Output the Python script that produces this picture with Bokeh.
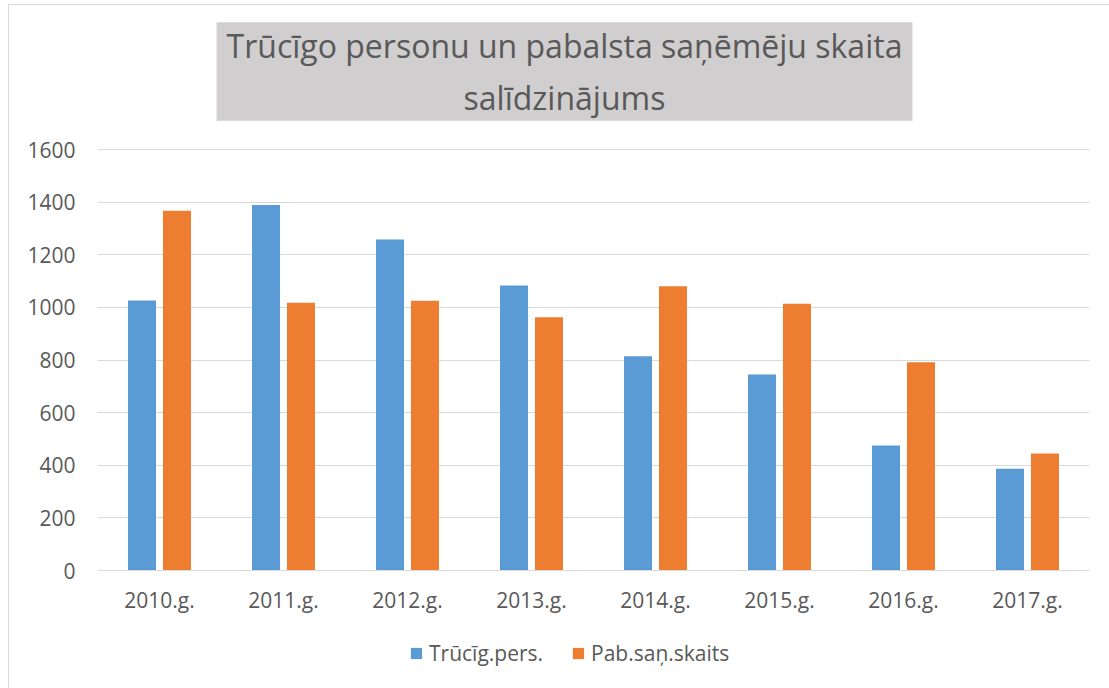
from bokeh.plotting import figure
from bokeh.models import ColumnDataSource, FactorRange, FixedTicker, Label, Legend, LegendItem, Range1d
from bokeh.transform import dodge
from bokeh.embed import file_html
from bokeh.resources import INLINE

years = ["2010.g.", "2011.g.", "2012.g.", "2013.g.", "2014.g.", "2015.g.", "2016.g.", "2017.g."]
trucig_pers = [1026, 1389, 1258, 1083, 814, 745, 475, 387]
pab_san_skaits = [1367, 1018, 1025, 962, 1080, 1014, 791, 445]
series_names = ["Trūcīg.pers.", "Pab.saņ.skaits"]
title_lines = ["Trūcīgo personu un pabalsta saņēmēju skaita", "salīdzinājums"]
y_ticks = [0, 200, 400, 600, 800, 1000, 1200, 1400, 1600]

FONT = "Open Sans"
TXT = "#595959"

W, H = 1101, 684
# value axis: 0..1600 spans 421 px; frame also holds title and legend areas
PX_PER_UNIT = 421 / 1600
Y_LO = -(119 / PX_PER_UNIT)
Y_HI = 1600 + (144 / PX_PER_UNIT)

source = ColumnDataSource(dict(year=years, a=trucig_pers, b=pab_san_skaits))

p = figure(x_range=FactorRange(*years, range_padding=0), y_range=Range1d(Y_LO, Y_HI),
           width=W, height=H, output_backend="svg", toolbar_location=None,
           min_border_left=88, min_border_right=21, min_border_top=0, min_border_bottom=0)
p.title.visible = False
p.outline_line_color = None
p.styles = {"border-left": "1px solid #d9d9d9", "border-top": "1px solid #d9d9d9",
            "margin-left": "8px", "margin-top": "4px"}

r1 = p.vbar(x=dodge("year", -0.141, range=p.x_range), top="a", width=0.226, source=source,
            fill_color="#5b9bd5", line_color=None)
r2 = p.vbar(x=dodge("year", 0.141, range=p.x_range), top="b", width=0.226, source=source,
            fill_color="#ed7d31", line_color=None)

p.xgrid.grid_line_color = None
p.ygrid.grid_line_color = "#d9d9d9"
p.ygrid.grid_line_width = 1
p.yaxis.ticker = FixedTicker(ticks=y_ticks)

for ax in (p.xaxis[0], p.yaxis[0]):
    ax.major_tick_line_color = None
    ax.minor_tick_line_color = None
    ax.major_tick_in = 0
    ax.major_tick_out = 0
    ax.minor_tick_out = 0
    ax.major_label_text_font = FONT
    ax.major_label_text_font_size = "21px"
    ax.major_label_text_color = TXT
p.yaxis.axis_line_color = None
p.yaxis.major_label_standoff = 22
p.xaxis.axis_line_color = "#d9d9d9"
p.xaxis.major_label_standoff = 15
p.xaxis.fixed_location = 0

legend = Legend(items=[LegendItem(label=series_names[0], renderers=[r1]),
                       LegendItem(label=series_names[1], renderers=[r2])],
                orientation="horizontal", location=(312, 22),
                label_text_font=FONT, label_text_font_size="21px", label_text_color=TXT,
                glyph_width=14, glyph_height=14, label_standoff=6, spacing=28,
                padding=0, margin=0, border_line_color=None, background_fill_alpha=0)
p.add_layout(legend)

title = Label(x=467, y=618, x_units="screen", y_units="screen",
              text="\n".join(title_lines), text_align="center", text_baseline="middle",
              text_font=FONT, text_font_size="32px", text_color=TXT,
              background_fill_color="#d0cece", padding=(10, 2), text_line_height=1.2)
p.add_layout(title)

open("out.html", "w").write(file_html(p, INLINE))
